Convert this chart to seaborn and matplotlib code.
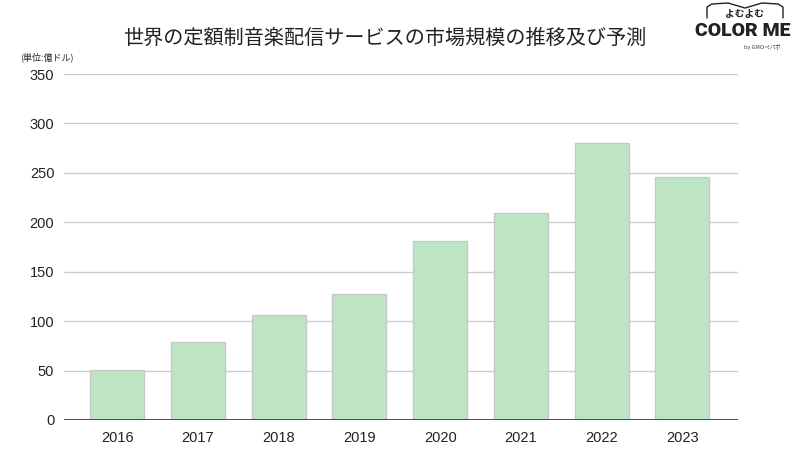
import matplotlib
matplotlib.use("Agg")
import matplotlib.pyplot as plt
import seaborn as sns
import pandas as pd
from matplotlib.lines import Line2D

years = ["2016", "2017", "2018", "2019", "2020", "2021", "2022", "2023"]
values = [51, 79, 106, 127, 181, 209, 280, 246]
yticks = [0, 50, 100, 150, 200, 250, 300, 350]

sns.set_theme(style="white")
plt.rcParams['font.family'] = ['Noto Sans CJK JP', 'DejaVu Sans']

df = pd.DataFrame({"year": years, "value": values})

fig = plt.figure(figsize=(8, 4.63), dpi=100)
ax = fig.add_axes([0.08, 0.093, 0.8425, 0.747])

sns.barplot(data=df, x="year", y="value", color="#bde5c4", width=0.67,
            edgecolor="#c8c8c8", linewidth=1.0, saturation=1, ax=ax, zorder=3)

ax.set_ylim(0, 350)
ax.set_xlim(-0.66, 7.69)
ax.set_yticks(yticks)
ax.set_yticklabels([str(t) for t in yticks], fontsize=10.5, color="#222222",
                   family=['Liberation Sans', 'DejaVu Sans'])
ax.set_xticklabels(years, fontsize=10.5, color="#222222",
                   family=['Liberation Sans', 'DejaVu Sans'])
ax.yaxis.grid(True, color="#cccccc", linewidth=1.0, zorder=0)
ax.axhline(0, color="#333333", linewidth=1.2, zorder=4)
for s in ax.spines.values():
    s.set_visible(False)
ax.tick_params(axis='x', length=0, pad=8)
ax.tick_params(axis='y', length=0, pad=7)
ax.set_xlabel("")
ax.set_ylabel("")

fig.text(0.481, 0.918, "世界の定額制音楽配信サービスの市場規模の推移及び予測",
         ha="center", va="center", fontsize=14.5, color="#222222", fontweight="normal")
fig.text(0.025, 0.877, "(単位:億ドル)", ha="left", va="center", fontsize=6.5,
         color="#222222")

# logo
W, H = 800, 463
def fx(x): return x / W
def fy(y): return 1 - y / H
xs = [707, 707, 712, 728, 745, 762, 778, 783, 783]
ys = [18, 7, 4, 3, 8, 3, 4, 7, 18]
fig.add_artist(Line2D([fx(x) for x in xs], [fy(y) for y in ys],
                      color="#222222", linewidth=1.0, transform=fig.transFigure))
fig.text(fx(745), fy(14), "よむよむ", ha="center", va="center", fontsize=7,
         color="#222222", fontweight="bold", style="italic")
fig.text(fx(743), fy(31), "COLOR ME", ha="center", va="center", fontsize=14,
         color="#222222", fontweight="heavy", family=['Roboto', 'DejaVu Sans'])
fig.text(fx(762), fy(47), "by GMOペパボ", ha="center", va="center", fontsize=4,
         color="#444444")

fig.savefig("out.png", dpi=100)
